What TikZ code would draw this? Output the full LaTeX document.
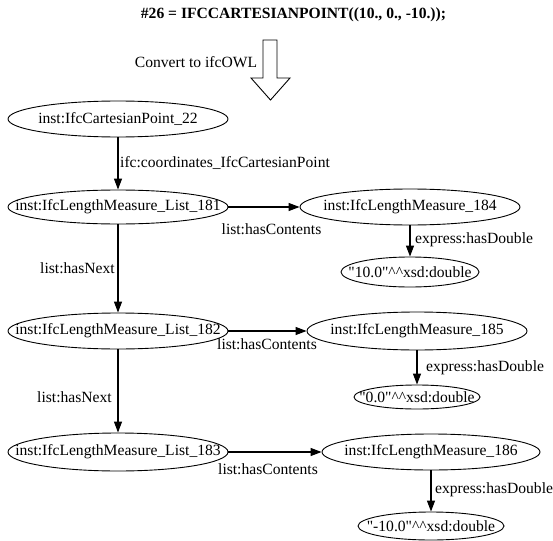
\documentclass[tikz,border=0pt]{standalone}
\usepackage{fontspec}
\setmainfont{Liberation Serif}[Ligatures=TeXOff]
\usetikzlibrary{shapes.geometric,arrows.meta}
\begin{document}
\begin{tikzpicture}[x=1pt,y=-1pt,
  every node/.style={font=\fontsize{15.6pt}{18pt}\selectfont, inner sep=0pt},
  ell/.style={ellipse, draw, line width=0.9pt, inner sep=0pt},
  edge/.style={line width=1.2pt, -{Triangle[length=11pt,width=8pt]}},
  lbl/.style={}]
\useasboundingbox (0,0) rectangle (553,540);
% header
\node (title) at (293.5,15) {\bfseries \#26 = IFCCARTESIANPOINT((10., 0., -10.));};
\node (conv) at (196,62) {Convert to ifcOWL};
\draw[line width=0.9pt] (263,40) -- (277,40) -- (277,78) -- (290,78) -- (270.5,100) -- (251,78) -- (263,78) -- cycle;
% main column
\node[ell, minimum width=220, minimum height=36] (cp) at (118,119) {\makebox[0pt]{inst:IfcCartesianPoint\_22}};
\node[ell, minimum width=220, minimum height=34] (l181) at (118,207) {\makebox[0pt]{inst:IfcLengthMeasure\_List\_181}};
\node[ell, minimum width=220, minimum height=36] (l182) at (118,331) {\makebox[0pt]{inst:IfcLengthMeasure\_List\_182}};
\node[ell, minimum width=220, minimum height=38] (l183) at (118,452) {\makebox[0pt]{inst:IfcLengthMeasure\_List\_183}};
% right column
\node[ell, minimum width=220, minimum height=36] (m184) at (410,207) {\makebox[0pt]{inst:IfcLengthMeasure\_184}};
\node[ell, minimum width=220, minimum height=38] (m185) at (417,331) {\makebox[0pt]{inst:IfcLengthMeasure\_185}};
\node[ell, minimum width=218, minimum height=36] (m186) at (431,452) {\makebox[0pt]{inst:IfcLengthMeasure\_186}};
\node[ell, minimum width=138, minimum height=30] (d10) at (410,272) {\makebox[0pt]{"10.0"\textasciicircum\textasciicircum xsd:double}};
\node[ell, minimum width=126, minimum height=24] (d0) at (417,397) {\makebox[0pt]{"0.0"\textasciicircum\textasciicircum xsd:double}};
\node[ell, minimum width=146, minimum height=28] (dm10) at (431,526) {\makebox[0pt]{"-10.0"\textasciicircum\textasciicircum xsd:double}};
% edges
\draw[edge] (cp.south) -- (l181.north);
\draw[edge] (l181.south) -- (l182.north);
\draw[edge] (l182.south) -- (l183.north);
\draw[edge] (l181.east) -- (m184.west);
\draw[edge] (l182.east) -- (m185.west);
\draw[edge] (l183.east) -- (m186.west);
\draw[edge] (m184.south) -- (d10.north);
\draw[edge] (m185.south) -- (d0.north);
\draw[edge] (m186.south) -- (dm10.north);
% labels
\node[anchor=west] (t1) at (120,163) {ifc:coordinates\_IfcCartesianPoint};
\node (t2) at (77.5,268) {list:hasNext};
\node (t3) at (74.5,397) {list:hasNext};
\node (t4) at (271.5,229) {list:hasContents};
\node (t5) at (267,344) {list:hasContents};
\node (t6) at (268,469) {list:hasContents};
\node[anchor=west] (t7) at (415,240) {express:hasDouble};
\node[anchor=west] (t8) at (426,368) {express:hasDouble};
\node[anchor=west] (t9) at (435,490) {express:hasDouble};
\end{tikzpicture}
\end{document}
